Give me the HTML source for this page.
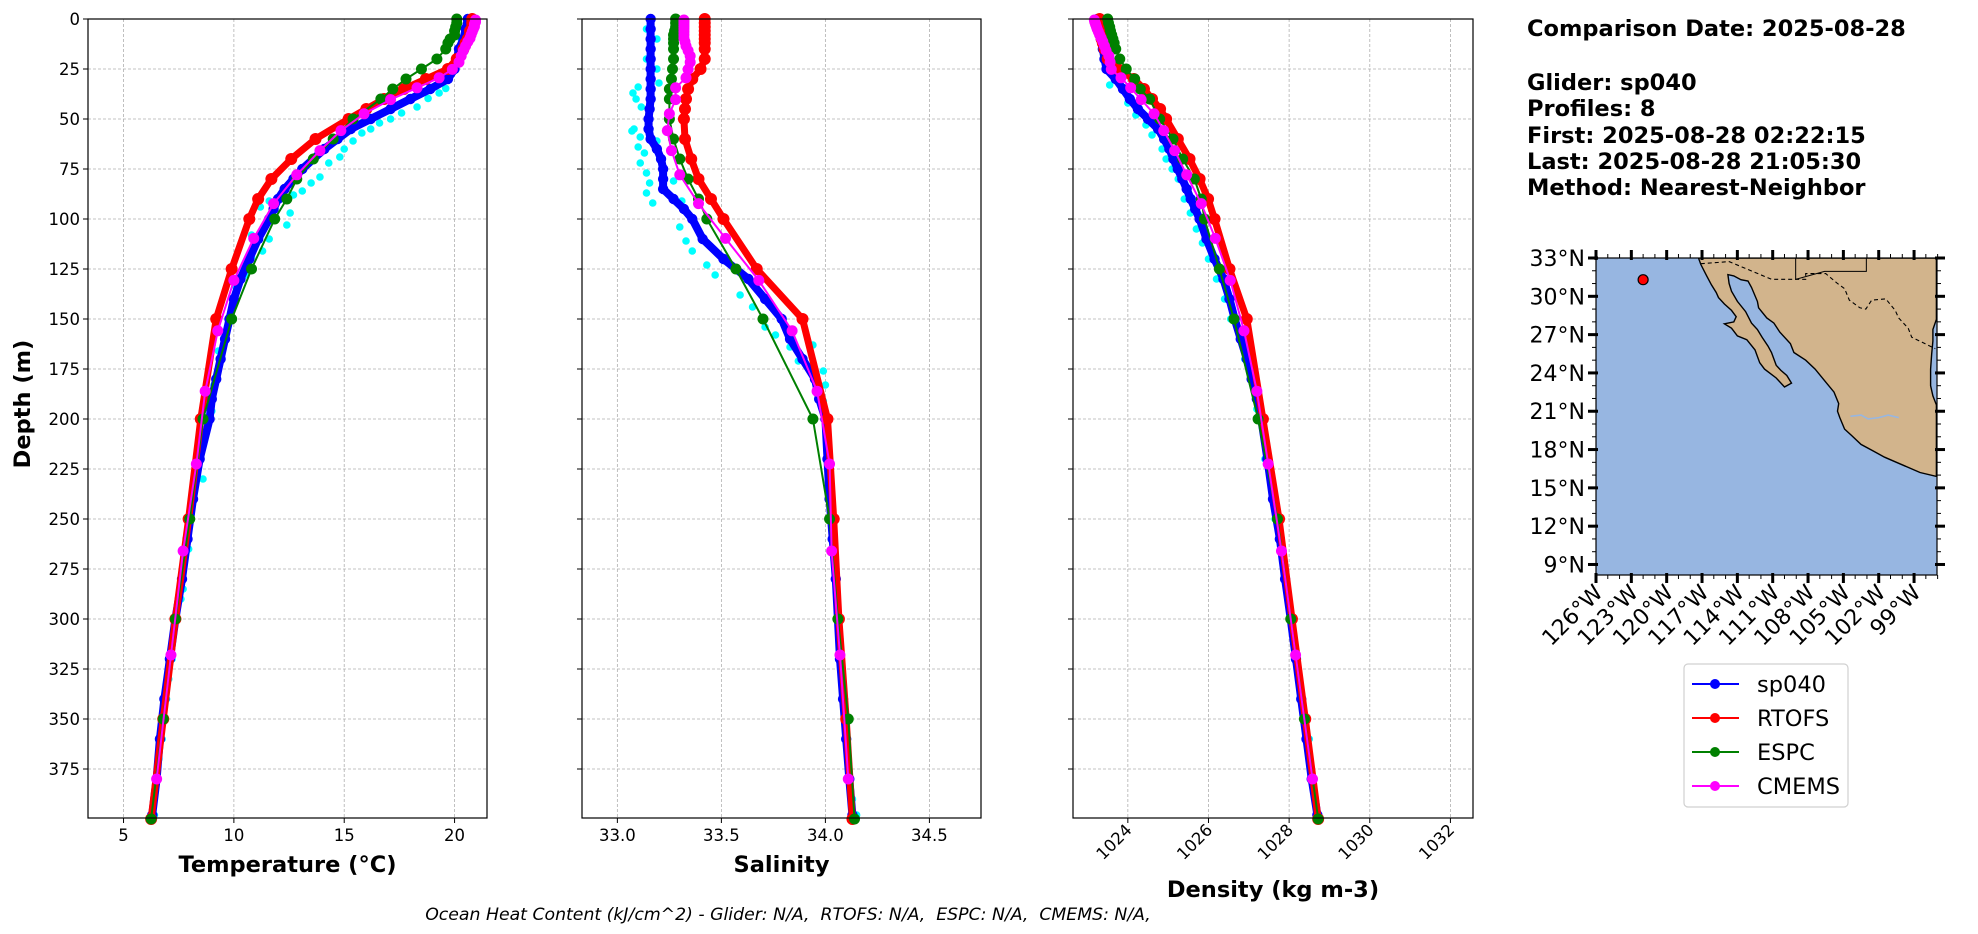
<!DOCTYPE html>
<html><head><meta charset="utf-8"><style>
html,body{margin:0;padding:0;background:#fff;}
svg{display:block;font-family:"DejaVu Sans","Liberation Sans",sans-serif;}
</style></head><body>
<svg id="fig" width="1978" height="934" viewBox="0 0 1978 934" xmlns="http://www.w3.org/2000/svg">
<g id="layer"></g>
<g font-weight="bold" font-size="22.5" fill="#000">
<text x="1527" y="36">Comparison Date: 2025-08-28</text>
<text x="1527" y="90">Glider: sp040</text>
<text x="1527" y="116">Profiles: 8</text>
<text x="1527" y="143">First: 2025-08-28 02:22:15</text>
<text x="1527" y="169">Last: 2025-08-28 21:05:30</text>
<text x="1527" y="195">Method: Nearest-Neighbor</text>
</g>
<text x="788" y="920" text-anchor="middle" font-style="italic" font-size="17.3" xml:space="preserve">Ocean Heat Content (kJ/cm^2) - Glider: N/A,  RTOFS: N/A,  ESPC: N/A,  CMEMS: N/A,</text>
</svg>
<script>
// ---------- DATA ----------
const gliderDepth=[0,5,10,15,20,25,30,35,40,45,50,55,60,65,70,75,80,85,90,95,100,110,120,130,140,150,160,170,180,190,200,220,240,260,280,300,320,340,360,380,398];
const gliderTemp=[20.6,20.5,20.4,20.2,20.1,20.0,19.7,18.9,18.0,17.1,16.2,15.3,14.7,14.1,13.6,13.1,12.7,12.3,12.0,11.8,11.6,11.1,10.7,10.3,10.0,9.8,9.6,9.4,9.2,9.0,8.9,8.45,8.15,7.9,7.65,7.35,7.1,6.85,6.65,6.5,6.3];
const gliderSal=[33.16,33.16,33.16,33.16,33.16,33.16,33.16,33.16,33.16,33.155,33.15,33.15,33.16,33.19,33.21,33.22,33.22,33.22,33.27,33.32,33.36,33.41,33.51,33.63,33.71,33.79,33.83,33.89,33.95,33.97,34.0,34.01,34.02,34.035,34.05,34.06,34.07,34.085,34.1,34.115,34.13];
const gliderDens=[1023.25,1023.28,1023.33,1023.38,1023.42,1023.47,1023.7,1023.88,1024.05,1024.25,1024.5,1024.75,1024.9,1025.03,1025.13,1025.24,1025.35,1025.46,1025.56,1025.67,1025.78,1025.95,1026.15,1026.37,1026.52,1026.65,1026.8,1026.95,1027.07,1027.2,1027.31,1027.46,1027.6,1027.77,1027.9,1028.04,1028.17,1028.3,1028.43,1028.56,1028.7];

const rtofsDepth=[0,2,4,6,8,10,12,15,20,25,30,35,40,45,50,60,70,80,90,100,125,150,200,250,300,350,400];
const rtofsTemp=[20.8,20.8,20.8,20.7,20.7,20.6,20.5,20.4,20.1,19.7,18.7,17.7,16.8,16.0,15.2,13.7,12.6,11.7,11.1,10.7,9.9,9.2,8.5,7.95,7.35,6.8,6.25];
const rtofsSal=[33.42,33.42,33.42,33.42,33.42,33.42,33.42,33.42,33.42,33.4,33.36,33.34,33.33,33.325,33.32,33.325,33.355,33.39,33.45,33.51,33.67,33.89,34.01,34.04,34.065,34.1,34.13];
const rtofsDens=[1023.3,1023.3,1023.3,1023.32,1023.33,1023.35,1023.38,1023.42,1023.5,1023.75,1024.15,1024.4,1024.6,1024.8,1024.95,1025.24,1025.53,1025.78,1025.99,1026.15,1026.52,1026.95,1027.35,1027.75,1028.07,1028.4,1028.72];

const espcDepth=[0,2,4,6,8,10,12,15,20,25,30,35,40,50,60,70,80,90,100,125,150,200,250,300,350,400];
const espcTemp=[20.1,20.1,20.05,20.0,20.0,19.8,19.7,19.6,19.2,18.5,17.8,17.2,16.66,15.4,14.5,13.6,12.85,12.4,11.85,10.8,9.9,8.6,8.0,7.35,6.8,6.25];
const espcSal=[33.28,33.28,33.28,33.275,33.27,33.27,33.27,33.27,33.27,33.265,33.26,33.25,33.25,33.25,33.27,33.3,33.34,33.39,33.43,33.57,33.7,33.94,34.02,34.06,34.11,34.14];
const espcDens=[1023.5,1023.52,1023.55,1023.57,1023.6,1023.63,1023.66,1023.7,1023.8,1023.96,1024.17,1024.31,1024.54,1024.79,1025.12,1025.36,1025.65,1025.82,1025.9,1026.27,1026.63,1027.23,1027.71,1028.04,1028.38,1028.72];

const cmemsDepth=[0.5,1.5,2.6,3.8,5,6.4,7.9,9.6,11.4,13.5,15.8,18.5,21.6,25.2,29.4,34.4,40.3,47.4,55.8,65.8,77.9,92.3,109.7,130.7,155.9,186.1,222.5,266,318,380];
const cmemsTemp=[20.95,20.95,20.9,20.9,20.85,20.8,20.75,20.7,20.6,20.5,20.4,20.3,20.2,19.9,19.3,18.3,17.1,15.9,14.85,13.9,12.85,11.8,10.9,10.0,9.27,8.7,8.3,7.7,7.15,6.5];
const cmemsSal=[33.32,33.32,33.32,33.32,33.32,33.32,33.32,33.32,33.325,33.33,33.34,33.35,33.35,33.34,33.33,33.28,33.28,33.25,33.24,33.26,33.3,33.39,33.52,33.68,33.84,33.96,34.02,34.03,34.07,34.11];
const cmemsDens=[1023.17,1023.18,1023.2,1023.22,1023.24,1023.27,1023.3,1023.34,1023.38,1023.42,1023.46,1023.53,1023.56,1023.59,1023.83,1024.07,1024.33,1024.65,1024.89,1025.16,1025.46,1025.82,1026.17,1026.54,1026.88,1027.2,1027.48,1027.81,1028.16,1028.58];

const cyanTempT=[19.6,19.3,18.8,18.3,17.6,17.1,16.6,16.2,15.8,15.4,15.0,14.8,14.3,13.9,13.5,13.1,12.7,12.55,12.4,11.6,11.3,10.8,10.5,10.1,9.8,9.6,9.3,9.1,9.0,11.2,11.6,10.8,8.5,8.6,8.2,7.95,7.7,7.6,7.45,7.2,7.05,6.95,6.75,6.6,6.55,6.4,20.3,20.1];
const cyanTempD=[34.7,37,39.7,44,47,50,52,55,57,61,65,69,72,79,82,86,88,97,103,110,116,119,128,134,150,158,166,183,196,94,91,108,220,230,240,265,285,290,300,320,330,340,360,370,380,398,10,20];
const cyanSalS=[33.14,33.19,33.14,33.19,33.1,33.075,33.09,33.115,33.08,33.07,33.11,33.1,33.13,33.11,33.14,33.155,33.14,33.17,33.2,33.19,33.27,33.31,33.3,33.33,33.36,33.43,33.47,33.59,33.65,33.71,33.76,33.83,33.87,33.94,33.99,34.0,33.99,34.02,34.04,34.05,34.07,34.09,34.1,34.11,34.13,34.15];
const cyanSalD=[5,10,20,25,34,37,40,44,55,56,59,64,67,72,77,82,87,92,32,61,81,91,104,111,116,123,128,138,144,154,158,164,171,163,176,183,191,220,250,280,310,340,360,370,390,398];
const cyanDensR=[1023.3,1023.38,1023.45,1023.55,1024.0,1024.2,1024.45,1024.6,1024.85,1024.95,1025.1,1025.25,1025.4,1025.55,1025.7,1025.85,1026.0,1026.2,1026.4,1026.55,1026.9,1027.2,1027.4,1027.65,1027.9,1028.2,1028.5,1028.7];
const cyanDensD=[5,15,25,33,42,48,53,58,65,70,75,80,90,97,105,112,120,130,140,150,170,195,220,250,280,320,360,398];

const tempTicks=[5,10,15,20];
const salTicks=[33.0,33.5,34.0,34.5];
const densTicks=[1024,1026,1028,1030,1032];
const depthTicks=[0,25,50,75,100,125,150,175,200,225,250,275,300,325,350,375];

const latTicks=[33,30,27,24,21,18,15,12,9];
const lonTicks=[126,123,120,117,114,111,108,105,102,99];
const gliderLon=[122.0];
const gliderLat=[31.3];

// ---------- DRAW ----------
const NS='http://www.w3.org/2000/svg';
const layer=document.getElementById('layer');
function el(tag,attrs,parent){const e=document.createElementNS(NS,tag);for(const k in attrs)e.setAttribute(k,attrs[k]);(parent||layer).appendChild(e);return e;}

const TOP=19, BOT=818, DMAX=399.5;
function yD(d){return TOP+(d/DMAX)*(BOT-TOP);}

const panels=[
 {name:'temperature',x0:88,x1:487,v0:3.39,v1:21.47,ticks:tempTicks,fmt:v=>String(v),label:'Temperature (°C)',labelY:872,rot:false,yl:true},
 {name:'salinity',x0:582,x1:981,v0:32.83,v1:34.748,ticks:salTicks,fmt:v=>v.toFixed(1),label:'Salinity',labelY:872,rot:false,yl:false},
 {name:'density',x0:1073,x1:1473,v0:1022.64,v1:1032.56,ticks:densTicks,fmt:v=>String(v),label:'Density (kg m-3)',labelY:897,rot:true,yl:false}
];

function drawPanel(p,sets){
  const g=el('g',{});
  
  
  const xs=v=>p.x0+(v-p.v0)/(p.v1-p.v0)*(p.x1-p.x0);
  p.ticks.forEach(t=>{
    const l=el('line',{x1:xs(t),x2:xs(t),y1:TOP,y2:BOT,stroke:'#b0b0b0','stroke-width':0.8,'stroke-dasharray':'3,2'},g);
    
    
    el('line',{x1:xs(t),x2:xs(t),y1:BOT,y2:BOT+5,stroke:'#000','stroke-width':1},g);
    const tx=el('text',{'font-size':16.5,fill:'#000'},g);
    
    
    tx.textContent=p.fmt(t);
    if(p.rot){tx.setAttribute('text-anchor','end');tx.setAttribute('transform','translate('+(xs(t)+5)+','+(BOT+13)+') rotate(-45)');}
    else{tx.setAttribute('x',xs(t));tx.setAttribute('y',BOT+23);tx.setAttribute('text-anchor','middle');}
  });
  depthTicks.forEach(d=>{
    const l=el('line',{x1:p.x0,x2:p.x1,y1:yD(d),y2:yD(d),stroke:'#b0b0b0','stroke-width':0.8,'stroke-dasharray':'3,2'},g);
    
    
    el('line',{x1:p.x0-5,x2:p.x0,y1:yD(d),y2:yD(d),stroke:'#000','stroke-width':1},g);
    if(p.yl){
      const tx=el('text',{x:p.x0-8,y:yD(d)+6,'text-anchor':'end','font-size':16.5,fill:'#000'},g);
      
      
      tx.textContent=String(d);
    }
  });
  const cg=el('g',{fill:'#00ffff'},g);
  
  
  sets.cyanV.forEach((v,i)=>{const c=el('circle',{cx:xs(v),cy:yD(sets.cyanD[i]),r:3.8},cg);
    
    });
  const series=[
    {n:'sp040',c:'#0000ff',lw:8,r:5.2,v:sets.g,d:gliderDepth},
    {n:'rtofs',c:'#ff0000',lw:7,r:6,v:sets.r,d:rtofsDepth},
    {n:'espc',c:'#008000',lw:2,r:5.5,v:sets.e,d:espcDepth},
    {n:'cmems',c:'#ff00ff',lw:2,r:5.5,v:sets.c,d:cmemsDepth}
  ];
  series.forEach(s=>{
    const sg=el('g',{},g);
    
    
    const pts=s.v.map((v,i)=>xs(v).toFixed(1)+','+yD(s.d[i]).toFixed(1)).join(' ');
    const pl=el('polyline',{points:pts,fill:'none',stroke:s.c,'stroke-width':s.lw,'stroke-linejoin':'round','stroke-linecap':'round'},sg);
    
    
    s.v.forEach((v,i)=>{const c=el('circle',{cx:xs(v),cy:yD(s.d[i]),r:s.r,fill:s.c},sg);
      
      });
  });
  const f=el('rect',{x:p.x0,y:TOP,width:p.x1-p.x0,height:BOT-TOP,fill:'none',stroke:'#000','stroke-width':1.2},g);
  
  
  const lb=el('text',{x:(p.x0+p.x1)/2,y:p.labelY,'text-anchor':'middle','font-size':22.5,'font-weight':'bold'},g);
  
  
  lb.textContent=p.label;
}
drawPanel(panels[0],{g:gliderTemp,r:rtofsTemp,e:espcTemp,c:cmemsTemp,cyanV:cyanTempT,cyanD:cyanTempD});
drawPanel(panels[1],{g:gliderSal,r:rtofsSal,e:espcSal,c:cmemsSal,cyanV:cyanSalS,cyanD:cyanSalD});
drawPanel(panels[2],{g:gliderDens,r:rtofsDens,e:espcDens,c:cmemsDens,cyanV:cyanDensR,cyanD:cyanDensD});

const yt=el('text',{transform:'translate(30,404) rotate(-90)','text-anchor':'middle','font-size':22.5,'font-weight':'bold'});


yt.textContent='Depth (m)';

// ---------- MAP ----------
const MX0=1596,MX1=1937,MY0=258,MY1=575;
const mx=lw=>MX0+(126-lw)*11.78;
const my=lat=>MY0+(33-lat)*12.77;
const mg=el('g',{});


el('defs',{}).innerHTML='<clipPath id="mclip"><rect x="'+MX0+'" y="'+MY0+'" width="'+(MX1-MX0)+'" height="'+(MY1-MY0)+'"/></clipPath>';
const ocean=el('rect',{x:MX0,y:MY0,width:MX1-MX0,height:MY1-MY0,fill:'#97b6e1'},mg);


const landPts=[[117.3,33],[117.1,32.5],[116.6,31.6],[116.2,30.9],[115.8,30.3],[115.6,29.9],[115.1,29.4],[114.5,28.9],[114.1,28.4],[114.3,28.0],[115.1,27.85],[114.5,27.5],[114.0,26.9],[113.2,26.6],[112.5,25.8],[112.1,24.8],[111.7,24.3],[110.7,23.6],[110.0,22.9],[109.4,23.2],[109.8,23.8],[110.3,24.2],[110.7,24.6],[111.1,25.6],[111.4,26.1],[111.9,26.8],[112.3,27.4],[112.8,27.9],[113.3,28.8],[114.0,29.6],[114.5,30.4],[114.7,31.0],[114.8,31.7],[114.3,31.6],[113.7,31.3],[113.1,31.2],[112.8,30.7],[112.3,29.6],[112.2,29.1],[111.5,28.3],[110.9,27.9],[110.4,27.2],[109.5,26.3],[109.2,25.6],[108.2,25.0],[107.4,24.3],[106.6,23.4],[105.8,22.5],[105.4,21.6],[105.5,21.0],[105.3,20.5],[104.9,19.6],[104.3,19.1],[103.5,18.4],[102.5,17.9],[101.5,17.4],[100.5,17.0],[99.5,16.6],[98.5,16.2],[97.1,15.9],[97.1,21.5],[97.4,22.2],[97.6,23.0],[97.6,24.3],[97.5,25.5],[97.4,26.5],[97.4,27.4],[97.1,28.2],[97.1,33]];
const land=el('polygon',{points:landPts.map(p=>mx(p[0]).toFixed(1)+','+my(p[1]).toFixed(1)).join(' '),fill:'#d2b48c',stroke:'#000','stroke-width':1.4,'clip-path':'url(#mclip)'},mg);


const border=[[117.1,32.55],[114.7,32.72],[111.1,31.33],[108.2,31.33],[108.2,31.78],[106.5,31.78],[105.5,31.0],[104.9,30.6],[104.5,29.7],[103.6,29.1],[103.1,29.0],[102.6,29.7],[101.4,29.8],[100.6,28.9],[100.3,28.3],[99.5,27.5],[99.2,26.8],[97.2,25.9]];
const bl=el('polyline',{points:border.map(p=>mx(p[0]).toFixed(1)+','+my(p[1]).toFixed(1)).join(' '),fill:'none',stroke:'#000','stroke-width':1.1,'stroke-dasharray':'4,3','clip-path':'url(#mclip)'},mg);


const states=el('polyline',{points:[[109.05,33],[109.05,31.33]].map(p=>mx(p[0])+','+my(p[1])).join(' ')+' '+[[106.6,31.95],[103.05,31.95],[103.05,33]].map(p=>mx(p[0])+','+my(p[1])).join(' '),fill:'none',stroke:'#000','stroke-width':1},mg);


const river=el('polyline',{points:[[104.4,20.6],[103.5,20.7],[102.9,20.4],[102.0,20.5],[101.2,20.7],[100.3,20.5]].map(p=>mx(p[0])+','+my(p[1])).join(' '),fill:'none',stroke:'#97b6e1','stroke-width':1.6},mg);


gliderLon.forEach((lw,i)=>{const c=el('circle',{cx:mx(lw),cy:my(gliderLat[i]),r:5,fill:'#ff0000',stroke:'#000','stroke-width':1.2},mg);
  
  });
el('rect',{x:MX0,y:MY0,width:MX1-MX0,height:MY1-MY0,fill:'none',stroke:'#000','stroke-width':1.2},mg);
for(let la=9;la<=33;la++){[MX0,MX1].forEach((x,k)=>el('line',{x1:x,x2:x+(k?4:-4),y1:my(la),y2:my(la),stroke:'#000','stroke-width':1},mg));}
for(let lw=126;lw>=97;lw--){[MY0,MY1].forEach((y,k)=>el('line',{x1:mx(lw),x2:mx(lw),y1:y,y2:y+(k?4:-4),stroke:'#000','stroke-width':1},mg));}
latTicks.forEach(la=>{
  [MX0,MX1].forEach((x,k)=>el('line',{x1:x-(k?2:8),x2:x+(k?8:2),y1:my(la),y2:my(la),stroke:'#000','stroke-width':3},mg));
  const t=el('text',{x:MX0-11,y:my(la)+8,'text-anchor':'end','font-size':22},mg);
  
  
  t.textContent=la+'°N';
});
lonTicks.forEach(lw=>{
  [MY0,MY1].forEach((y,k)=>el('line',{x1:mx(lw),x2:mx(lw),y1:y-(k?2:8),y2:y+(k?8:2),stroke:'#000','stroke-width':3},mg));
  const t=el('text',{'text-anchor':'end','font-size':22,transform:'translate('+(mx(lw)+8)+','+(MY1+19)+') rotate(-45)'},mg);
  
  
  t.textContent=lw+'°W';
});

// ---------- LEGEND ----------
const lg=el('g',{});


el('rect',{x:1684,y:664,width:164,height:143,rx:4,fill:'#fff',stroke:'#d0d0d0','stroke-width':1.2},lg);
const legNames=['sp040','RTOFS','ESPC','CMEMS'];
const legColors=['#0000ff','#ff0000','#008000','#ff00ff'];
legNames.forEach((n,i)=>{
  const y=684+i*34;
  const e=el('g',{},lg);
  
  
  el('line',{x1:1692,x2:1739,y1:y,y2:y,stroke:legColors[i],'stroke-width':2},e);
  el('circle',{cx:1715,cy:y,r:5,fill:legColors[i]},e);
  const t=el('text',{x:1757,y:y+8,'font-size':22.5},e);
  t.textContent=n;
});
</script>
</body></html>
